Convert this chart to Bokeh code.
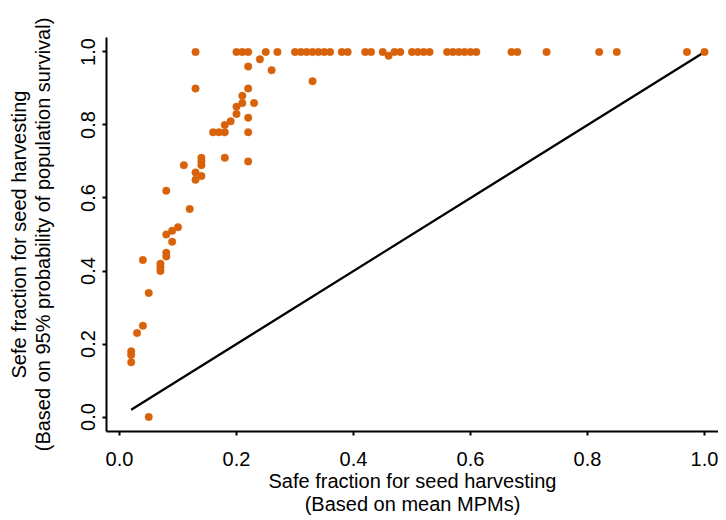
from bokeh.plotting import figure
from bokeh.models import Range1d, FixedTicker, PrintfTickFormatter
from bokeh.embed import file_html
from bokeh.resources import INLINE

# Points on the top row (y = 1.0)
top_x = [0.13, 0.20, 0.21, 0.22, 0.25, 0.27, 0.30, 0.31, 0.32, 0.33, 0.34, 0.35,
         0.36, 0.38, 0.39, 0.42, 0.43, 0.45, 0.47, 0.48, 0.50, 0.51, 0.52, 0.53,
         0.56, 0.57, 0.58, 0.59, 0.60, 0.61, 0.67, 0.68, 0.73, 0.82, 0.85, 0.97, 1.00]
top_y = [1.0] * len(top_x)

# Remaining points
other_x = [0.46, 0.24, 0.22, 0.26, 0.33, 0.13, 0.22, 0.21, 0.21, 0.23, 0.20, 0.20,
           0.22, 0.19, 0.18, 0.16, 0.17, 0.18, 0.22, 0.18, 0.22, 0.14, 0.14, 0.14,
           0.11, 0.13, 0.14, 0.13, 0.08, 0.12, 0.10, 0.09, 0.08, 0.09, 0.08, 0.08,
           0.04, 0.07, 0.07, 0.07, 0.05, 0.04, 0.03, 0.02, 0.02, 0.02, 0.05]
other_y = [0.99, 0.98, 0.96, 0.95, 0.92, 0.90, 0.90, 0.88, 0.86, 0.86, 0.85, 0.83,
           0.82, 0.81, 0.80, 0.78, 0.78, 0.78, 0.78, 0.71, 0.70, 0.71, 0.70, 0.69,
           0.69, 0.67, 0.66, 0.65, 0.62, 0.57, 0.52, 0.51, 0.50, 0.48, 0.45, 0.44,
           0.43, 0.42, 0.41, 0.40, 0.34, 0.25, 0.23, 0.18, 0.17, 0.15, 0.00]

# 1:1 reference line
line_x = [0.02, 1.0]
line_y = [0.02, 1.0]

tick_values = [0.0, 0.2, 0.4, 0.6, 0.8, 1.0]
x_label = "Safe fraction for seed harvesting\n(Based on mean MPMs)"
y_label = "Sefe fraction for seed harvesting\n(Based on 95% probability of population survival)"

xs = top_x + other_x
ys = top_y + other_y

FONT = "Liberation Sans"
COLOR = "#D8620A"

p = figure(frame_width=612, frame_height=394, output_backend="svg", toolbar_location=None,
           x_range=Range1d(-0.0222, 1.0239), y_range=Range1d(-0.0397, 1.0397),
           min_border_left=106, min_border_right=0, min_border_top=37,
           min_border_bottom=10)
p.outline_line_color = None
p.xgrid.visible = False
p.ygrid.visible = False

p.line(line_x, line_y, line_color="black", line_width=2.2)
p.scatter(xs, ys, size=7.5, fill_color=COLOR, line_color=COLOR, line_width=0.5)

for ax in (p.xaxis[0], p.yaxis[0]):
    ax.ticker = FixedTicker(ticks=tick_values)
    ax.formatter = PrintfTickFormatter(format="%.1f")
    ax.minor_tick_line_color = None
    ax.major_tick_in = 0
    ax.major_tick_out = 4
    ax.major_tick_line_width = 2
    ax.axis_line_width = 2
    ax.axis_line_color = "black"
    ax.major_tick_line_color = "black"
    ax.major_label_text_font = FONT
    ax.major_label_text_font_size = "20px"
    ax.major_label_text_color = "black"
    ax.axis_label_text_font = FONT
    ax.axis_label_text_font_size = "20px"
    ax.axis_label_text_font_style = "normal"
    ax.axis_label_text_color = "black"
    ax.axis_label_text_line_height = 1.05

p.xaxis[0].axis_label = x_label
p.xaxis[0].major_label_standoff = 16
p.xaxis[0].axis_label_standoff = 1
p.yaxis[0].axis_label = y_label
p.yaxis[0].major_label_orientation = "vertical"
p.yaxis[0].major_label_standoff = 7
p.yaxis[0].axis_label_standoff = 25

open("out.html", "w").write(file_html(p, INLINE))
